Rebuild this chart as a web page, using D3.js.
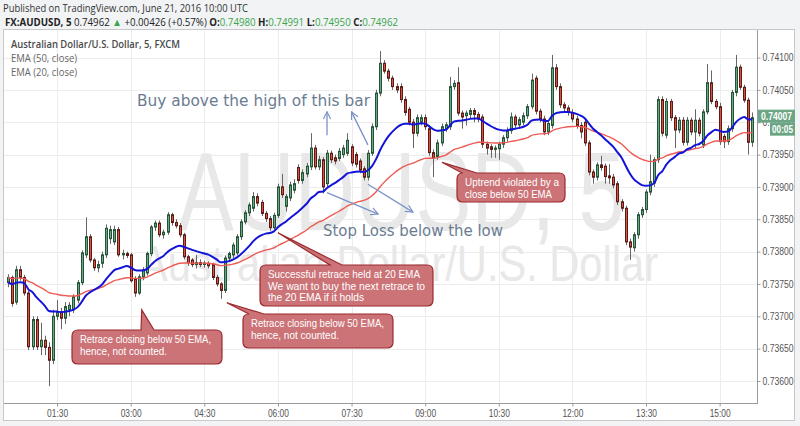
<!DOCTYPE html>
<html>
<head>
<meta charset="utf-8">
<script src="https://cdn.jsdelivr.net/npm/d3@7"></script>
<style>
    body { margin: 0; background: #f1f3f5; }
    svg { display: block; }
</style>
</head>
<body>
<svg id="chart" width="800" height="426"></svg>
<script>
// AUDUSD 5 min bars
const opens = [
    0.73752,0.73760,0.73722,0.73772,0.73760,0.73736,0.73653,0.73695,0.73653,0.73663,
    0.73652,0.73632,0.73700,0.73707,0.73697,0.73710,0.73710,0.73725,0.73752,0.73795,
    0.73823,0.73787,0.73775,0.73782,0.73795,0.73820,0.73815,0.73834,0.73795,0.73797,
    0.73795,0.73758,0.73736,0.73761,0.73767,0.73797,0.73838,0.73844,0.73826,0.73830,
    0.73857,0.73845,0.73840,0.73826,0.73792,0.73787,0.73780,0.73783,0.73780,0.73782,
    0.73780,0.73760,0.73750,0.73740,0.73790,0.73795,0.73798,0.73823,0.73846,0.73860,
    0.73867,0.73885,0.73876,0.73859,0.73851,0.73837,0.73856,0.73900,0.73870,0.73883,
    0.73895,0.73930,0.73910,0.73920,0.73931,0.73960,0.73931,0.73942,0.73905,0.73952,
    0.73945,0.73944,0.73950,0.73952,0.73962,0.73950,0.73940,0.73928,0.73915,0.73952,
    0.73993,0.74045,0.74091,0.74079,0.74068,0.74055,0.74055,0.74035,0.74020,0.74000,
    0.73983,0.74000,0.74007,0.73990,0.73953,0.73947,0.73968,0.73990,0.73993,0.74055,
    0.74061,0.74014,0.74010,0.74012,0.74018,0.74012,0.74008,0.73966,0.73962,0.73958,
    0.73959,0.73966,0.73976,0.73987,0.74008,0.73996,0.74000,0.74010,0.74024,0.74068,
    0.74017,0.74005,0.73985,0.73995,0.74084,0.74055,0.74027,0.74022,0.74015,0.74005,
    0.73995,0.74000,0.73968,0.73923,0.73915,0.73934,0.73932,0.73917,0.73915,0.73905,
    0.73877,0.73867,0.73815,0.73806,0.73826,0.73857,0.73865,0.73892,0.73906,0.73942,
    0.74035,0.73980,0.74032,0.74007,0.73988,0.74003,0.73969,0.74003,0.73985,0.74003,
    0.73965,0.74016,0.74061,0.74032,0.74024,0.73978,0.73970,0.73990,0.74046,0.74085,
    0.74054,0.74034,0.73969
];
const highs = [
    0.73765,0.73763,0.73778,0.73778,0.73764,0.73740,0.73700,0.73700,0.73690,0.73670,
    0.73660,0.73710,0.73725,0.73713,0.73722,0.73722,0.73734,0.73756,0.73802,0.73853,
    0.73827,0.73790,0.73786,0.73800,0.73842,0.73840,0.73840,0.73838,0.73803,0.73800,
    0.73798,0.73762,0.73765,0.73776,0.73800,0.73841,0.73848,0.73848,0.73834,0.73861,
    0.73860,0.73850,0.73844,0.73829,0.73795,0.73790,0.73795,0.73788,0.73786,0.73785,
    0.73783,0.73764,0.73753,0.73794,0.73800,0.73814,0.73827,0.73850,0.73864,0.73876,
    0.73892,0.73890,0.73880,0.73863,0.73855,0.73860,0.73905,0.73920,0.73889,0.73908,
    0.73912,0.73935,0.73927,0.73937,0.73983,0.73965,0.73948,0.73946,0.73957,0.73956,
    0.73950,0.73960,0.73965,0.73983,0.73966,0.73954,0.73944,0.73932,0.73957,0.73998,
    0.74050,0.74110,0.74096,0.74083,0.74072,0.74060,0.74060,0.74040,0.74024,0.74005,
    0.74012,0.74012,0.74012,0.73995,0.73958,0.73973,0.73998,0.74000,0.74070,0.74065,
    0.74085,0.74018,0.74018,0.74022,0.74022,0.74016,0.74012,0.73970,0.73966,0.73964,
    0.73970,0.73980,0.73992,0.74015,0.74012,0.74008,0.74015,0.74028,0.74075,0.74072,
    0.74021,0.74010,0.74003,0.74104,0.74090,0.74060,0.74031,0.74026,0.74020,0.74010,
    0.74000,0.74005,0.73972,0.73927,0.73938,0.73948,0.73936,0.73935,0.73920,0.73909,
    0.73881,0.73871,0.73820,0.73830,0.73861,0.73869,0.73896,0.73950,0.73946,0.74040,
    0.74040,0.74037,0.74036,0.74011,0.74008,0.74008,0.74008,0.74007,0.74020,0.74007,
    0.74020,0.74090,0.74080,0.74036,0.74030,0.73982,0.73995,0.74050,0.74104,0.74089,
    0.74058,0.74038,0.74015
];
const lows = [
    0.73745,0.73715,0.73718,0.73755,0.73732,0.73648,0.73648,0.73648,0.73640,0.73640,
    0.73592,0.73626,0.73694,0.73680,0.73688,0.73700,0.73705,0.73720,0.73748,0.73790,
    0.73783,0.73770,0.73768,0.73775,0.73790,0.73812,0.73810,0.73792,0.73788,0.73790,
    0.73752,0.73730,0.73733,0.73756,0.73763,0.73793,0.73832,0.73822,0.73820,0.73826,
    0.73840,0.73836,0.73822,0.73788,0.73778,0.73776,0.73774,0.73776,0.73775,0.73774,
    0.73756,0.73746,0.73727,0.73736,0.73785,0.73790,0.73794,0.73818,0.73842,0.73855,
    0.73862,0.73870,0.73855,0.73846,0.73832,0.73833,0.73852,0.73883,0.73862,0.73878,
    0.73890,0.73905,0.73905,0.73915,0.73926,0.73927,0.73926,0.73890,0.73900,0.73937,
    0.73935,0.73940,0.73945,0.73948,0.73932,0.73930,0.73921,0.73910,0.73910,0.73948,
    0.73988,0.74040,0.74075,0.74063,0.74050,0.74045,0.74030,0.74010,0.73995,0.73960,
    0.73978,0.73995,0.73988,0.73948,0.73915,0.73942,0.73963,0.73985,0.73988,0.74050,
    0.74010,0.73990,0.73995,0.74005,0.74000,0.74000,0.73960,0.73950,0.73945,0.73945,
    0.73942,0.73960,0.73970,0.73982,0.73990,0.73990,0.73995,0.74005,0.74020,0.74012,
    0.74000,0.73980,0.73980,0.73990,0.74050,0.74022,0.74017,0.74010,0.74000,0.73990,
    0.73975,0.73963,0.73918,0.73905,0.73910,0.73925,0.73905,0.73905,0.73898,0.73872,
    0.73862,0.73810,0.73787,0.73800,0.73820,0.73852,0.73860,0.73887,0.73900,0.73937,
    0.73978,0.73975,0.74002,0.73960,0.73983,0.73964,0.73964,0.73980,0.73960,0.73978,
    0.73960,0.74012,0.74028,0.74020,0.73965,0.73960,0.73965,0.73985,0.74040,0.74050,
    0.74030,0.73950,0.73962
];
const closes = [
    0.73760,0.73720,0.73772,0.73760,0.73736,0.73653,0.73695,0.73653,0.73663,0.73652,
    0.73632,0.73700,0.73707,0.73697,0.73715,0.73717,0.73730,0.73752,0.73798,0.73823,
    0.73787,0.73775,0.73780,0.73795,0.73836,0.73834,0.73834,0.73795,0.73797,0.73794,
    0.73755,0.73736,0.73761,0.73772,0.73797,0.73838,0.73844,0.73826,0.73830,0.73857,
    0.73845,0.73840,0.73826,0.73792,0.73783,0.73780,0.73783,0.73780,0.73782,0.73778,
    0.73760,0.73750,0.73740,0.73790,0.73797,0.73810,0.73823,0.73846,0.73860,0.73872,
    0.73885,0.73875,0.73859,0.73851,0.73837,0.73856,0.73900,0.73888,0.73885,0.73903,
    0.73905,0.73910,0.73922,0.73932,0.73960,0.73931,0.73942,0.73900,0.73952,0.73942,
    0.73940,0.73955,0.73960,0.73972,0.73937,0.73935,0.73926,0.73915,0.73952,0.73993,
    0.74045,0.74091,0.74079,0.74068,0.74055,0.74050,0.74035,0.74015,0.74000,0.73983,
    0.74007,0.74007,0.73993,0.73953,0.73945,0.73968,0.73993,0.73996,0.74055,0.74060,
    0.74014,0.74008,0.74014,0.74018,0.74012,0.74005,0.73966,0.73960,0.73958,0.73960,
    0.73966,0.73976,0.73987,0.74008,0.73996,0.74004,0.74010,0.74024,0.74065,0.74017,
    0.74005,0.73985,0.73998,0.74084,0.74055,0.74027,0.74022,0.74015,0.74005,0.73995,
    0.73985,0.73968,0.73923,0.73915,0.73934,0.73930,0.73916,0.73914,0.73903,0.73877,
    0.73867,0.73815,0.73807,0.73826,0.73857,0.73865,0.73892,0.73908,0.73942,0.74035,
    0.73983,0.74032,0.74007,0.73988,0.74003,0.73969,0.74003,0.73985,0.74003,0.73983,
    0.74016,0.74061,0.74032,0.74024,0.73970,0.73970,0.73990,0.74046,0.74085,0.74054,
    0.74034,0.73969,0.74007
];

const firstBar = "2016-06-21T00:30:00Z";
// EMA values just before the first visible bar (at the left edge)
const ema20Start = 0.73752;
const ema50Start = 0.73760;

const priceTicks = [0.7360, 0.73650, 0.7370, 0.73750, 0.7380, 0.73850, 0.7390, 0.73950, 0.7400, 0.74050, 0.7410];
const timeTicks = ["01:30", "03:00", "04:30", "06:00", "07:30", "09:00", "10:30", "12:00", "13:30", "15:00"];

const lastPrice = "0.74007";
const countdown = "00:05";

const [svgW, svgH] = [800, 426];
const PANE = {left: 4, top: 30, right: 757, bottom: 403};
const BAR_STEP = 4.09;
const FIRST_X = 8;
const BAR_MS = 5 * 60 * 1000;

const UP = {fill: '#6ba583', line: '#225437'};
const DOWN = {fill: '#d75442', line: '#5b1a13'};
const NOTE_FONT = '"Liberation Sans", Arial, sans-serif';
const TEXT_FONT = '"DejaVu Sans", Verdana, sans-serif';
const UI_FONT = '"Open Sans", "Noto Sans", sans-serif';
const AXIS_FONT = '"Liberation Sans", Arial, sans-serif';

const svg = d3.select('#chart');

const t0 = new Date(firstBar);
const times = d3.utcMinute.every(5).range(t0, d3.utcMinute.offset(t0, 5 * closes.length));
const bars = times.map(function (t, i) {
    return {t: t, o: opens[i], h: highs[i], l: lows[i], c: closes[i]};
});

const x = d3.scaleUtc()
    .domain([times[0], times[times.length - 1]])
    .range([FIRST_X, FIRST_X + BAR_STEP * (times.length - 1)]);
const y = d3.scaleLinear().domain([0.736, 0.741]).range([381, 57.5]);

const fmtHM = d3.utcFormat('%H:%M');
const tickTimes = times.filter(function (t) {
    return timeTicks.indexOf(fmtHM(t)) >= 0;
});

function ema(values, n, start) {
    const k = 2 / (n + 1);
    let e = start;
    return values.map(function (v) {
        e = e + k * (v - e);
        return e;
    });
}

// position at (fractional) bar index i and price p
function pt(i, p) {
    return [x(new Date(+t0 + i * BAR_MS)), y(p)];
}

function fit(sel, width) {
    sel.attr('textLength', width).attr('lengthAdjust', 'spacingAndGlyphs');
    return sel;
}

function renderFrame() {
    svg.append('rect').attr('x', 0).attr('y', 0).attr('width', svgW).attr('height', svgH).attr('fill', '#f1f3f5');
    svg.append('rect').attr('x', 3.5).attr('y', 29.5).attr('width', 791).attr('height', 391)
        .attr('fill', '#fff').attr('stroke', '#c8c8c8');

    let header = svg.append('g').attr('font-family', UI_FONT);
    fit(header.append('text').attr('x', 3).attr('y', 12).attr('font-size', 11.3).attr('fill', '#333')
        .text('Published on TradingView.com, June 21, 2016 10:00 UTC'), 245);

    let line2 = fit(header.append('text').attr('x', 5).attr('y', 26).attr('font-size', 10.6).attr('fill', '#222'), 393);
    const parts = [
        ['FX:AUDUSD, 5 ', '#222', 'bold'], ['0.74962 ', '#222', 'normal'], ['\u25B2', '#3aa54a', 'normal'],
        [' +0.00426 (+0.57%) ', '#222', 'normal'],
        ['O:', '#222', 'bold'], ['0.74980 ', '#3aa54a', 'normal'],
        ['H:', '#222', 'bold'], ['0.74991 ', '#3aa54a', 'normal'],
        ['L:', '#222', 'bold'], ['0.74950 ', '#3aa54a', 'normal'],
        ['C:', '#222', 'bold'], ['0.74962', '#3aa54a', 'normal']
    ];
    line2.selectAll('tspan').data(parts).enter().append('tspan')
        .attr('fill', function (d) { return d[1]; })
        .attr('font-weight', function (d) { return d[2]; })
        .text(function (d) { return d[0]; });
}

function renderGrid() {
    let g = svg.append('g').attr('stroke', '#ececec').attr('stroke-width', 1);
    g.selectAll('line.h').data(priceTicks).enter().append('line').attr('class', 'h')
        .attr('x1', PANE.left).attr('x2', PANE.right)
        .attr('y1', function (d) { return Math.round(y(d)) + 0.5; })
        .attr('y2', function (d) { return Math.round(y(d)) + 0.5; });
    g.selectAll('line.v').data(tickTimes).enter().append('line').attr('class', 'v')
        .attr('y1', PANE.top).attr('y2', PANE.bottom)
        .attr('x1', function (d) { return Math.round(x(d)) + 0.5; })
        .attr('x2', function (d) { return Math.round(x(d)) + 0.5; });
}

function renderWatermark() {
    let g = svg.append('g').attr('fill', '#e8e8e8').attr('font-family', '"Liberation Sans", Arial, sans-serif');
    fit(g.append('text').attr('x', 178).attr('y', 230).attr('font-size', 112).text('AUDUSD, 5'), 447);
    fit(g.append('text').attr('x', 140).attr('y', 281).attr('font-size', 50).text('Australian Dollar/U.S. Dollar'), 518);
}

function renderLegend() {
    let g = svg.append('g').attr('font-family', UI_FONT);
    fit(g.append('text').attr('x', 11).attr('y', 48).attr('font-size', 11).attr('font-weight', 600)
        .attr('fill', '#4a4a4a').text('Australian Dollar/U.S. Dollar, 5, FXCM'), 169);
    fit(g.append('text').attr('x', 11).attr('y', 62).attr('font-size', 10.6).attr('fill', '#666').text('EMA (50, close)'), 66);
    fit(g.append('text').attr('x', 11).attr('y', 76).attr('font-size', 10.6).attr('fill', '#666').text('EMA (20, close)'), 66);
}

function renderCandles(g) {
    g.selectAll('line.wick').data(bars).enter().append('line').attr('class', 'wick')
        .attr('stroke', '#666').attr('stroke-width', 1)
        .attr('x1', function (d) { return Math.round(x(d.t)) + 0.5; })
        .attr('x2', function (d) { return Math.round(x(d.t)) + 0.5; })
        .attr('y1', function (d) { return y(d.h); })
        .attr('y2', function (d) { return y(d.l); });

    g.selectAll('rect.body').data(bars).enter().append('rect').attr('class', 'body')
        .attr('x', function (d) { return Math.round(x(d.t)) - 0.5; })
        .attr('width', 2)
        .attr('y', function (d) { return y(Math.max(d.o, d.c)); })
        .attr('height', function (d) { return Math.max(1, Math.abs(y(d.o) - y(d.c))); })
        .attr('fill', function (d) { return d.c >= d.o ? UP.fill : DOWN.fill; })
        .attr('stroke', function (d) { return d.c >= d.o ? UP.line : DOWN.line; })
        .attr('stroke-width', 1);
}

function renderEmas(g) {
    let line = d3.line()
        .x(function (d, i) { return x(times[i]); })
        .y(function (d) { return y(d); })
        .curve(d3.curveMonotoneX);
    g.append('path').attr('d', line(ema(closes, 50, ema50Start)))
        .attr('fill', 'none').attr('stroke', '#ee5b55').attr('stroke-width', 1.4);
    g.append('path').attr('d', line(ema(closes, 20, ema20Start)))
        .attr('fill', 'none').attr('stroke', '#1414d8').attr('stroke-width', 2);
}

function renderAxes() {
    let yAxis = d3.axisRight(y).tickValues(priceTicks).tickFormat(d3.format('.5f')).tickSize(3).tickPadding(2);
    let ga = svg.append('g').attr('transform', 'translate(' + (PANE.right + 0.5) + ',0)').call(yAxis);
    ga.select('.domain').attr('d', 'M0,' + PANE.top + 'V' + PANE.bottom).attr('stroke', '#9a9a9a');
    ga.selectAll('.tick line').attr('stroke', '#9a9a9a');
    fit(ga.selectAll('.tick text').attr('font-family', AXIS_FONT).attr('font-size', 10).attr('fill', '#555'), 31);

    let xAxis = d3.axisBottom(x).tickValues(tickTimes).tickFormat(fmtHM).tickSize(3).tickPadding(3);
    let gx = svg.append('g').attr('transform', 'translate(0,' + (PANE.bottom + 0.5) + ')').call(xAxis);
    gx.select('.domain').attr('d', 'M' + PANE.left + ',0H' + (PANE.right + 1)).attr('stroke', '#9a9a9a');
    gx.selectAll('.tick line').attr('stroke', '#9a9a9a');
    fit(gx.selectAll('.tick text').attr('font-family', AXIS_FONT).attr('font-size', 10).attr('fill', '#555'), 21);

    // last price tag
    let tag = svg.append('g').attr('font-family', AXIS_FONT).attr('font-weight', 'bold').attr('font-size', 10);
    let ly = y(+lastPrice);
    tag.append('rect').attr('x', PANE.right + 1).attr('y', ly - 8).attr('width', 37).attr('height', 13).attr('fill', UP.fill);
    fit(tag.append('text').attr('x', PANE.right + 4).attr('y', ly + 2).attr('fill', '#fff').text(lastPrice), 31);
    tag.append('rect').attr('x', PANE.right + 13).attr('y', ly + 5).attr('width', 25).attr('height', 13).attr('fill', UP.fill);
    fit(tag.append('text').attr('x', PANE.right + 15).attr('y', ly + 15).attr('fill', '#fff').text(countdown), 21);
}

function calloutPath(b) {
    const r = 6, x0 = b.x, y0 = b.y, x1 = b.x + b.w, y1 = b.y + b.h;
    return 'M' + (x0 + r) + ',' + y0 +
        'L' + b.base[0] + ',' + y0 + 'L' + b.tip[0] + ',' + b.tip[1] + 'L' + b.base[1] + ',' + y0 +
        'L' + (x1 - r) + ',' + y0 + 'Q' + x1 + ',' + y0 + ' ' + x1 + ',' + (y0 + r) +
        'L' + x1 + ',' + (y1 - r) + 'Q' + x1 + ',' + y1 + ' ' + (x1 - r) + ',' + y1 +
        'L' + (x0 + r) + ',' + y1 + 'Q' + x0 + ',' + y1 + ' ' + x0 + ',' + (y1 - r) +
        'L' + x0 + ',' + (y0 + r) + 'Q' + x0 + ',' + y0 + ' ' + (x0 + r) + ',' + y0 + 'Z';
}

function renderNotes() {
    let g = svg.append('g').attr('font-family', TEXT_FONT);

    // arrows
    svg.append('defs').append('marker').attr('id', 'head').attr('viewBox', '0 0 10 10')
        .attr('refX', 9).attr('refY', 5).attr('markerWidth', 9).attr('markerHeight', 9)
        .attr('orient', 'auto').attr('markerUnits', 'userSpaceOnUse')
        .append('path').attr('d', 'M1,1L9,5L1,9').attr('fill', 'none').attr('stroke', '#7b93c6').attr('stroke-width', 1.3);
    const arrows = [
        [pt(78, 0.73980), pt(78, 0.74016)],
        [pt(88, 0.73965), pt(84, 0.74016)],
        [pt(78, 0.73891), pt(90.5, 0.73858)],
        [pt(88, 0.73904), pt(99, 0.73861)]
    ];
    g.selectAll('line.arrow').data(arrows).enter().append('line').attr('class', 'arrow')
        .attr('x1', function (d) { return d[0][0]; }).attr('y1', function (d) { return d[0][1]; })
        .attr('x2', function (d) { return d[1][0]; }).attr('y2', function (d) { return d[1][1]; })
        .attr('stroke', '#7b93c6').attr('stroke-width', 1.3).attr('marker-end', 'url(#head)');

    fit(g.append('text').attr('x', 137).attr('y', 106).attr('font-size', 15.5).attr('fill', '#6b7c92')
        .text('Buy above the high of this bar'), 233);
    fit(g.append('text').attr('x', 323).attr('y', 236).attr('font-size', 15.5).attr('fill', '#6b7c92')
        .text('Stop Loss below the low'), 180);

    const boxes = [
        {x: 72, y: 330, w: 150, h: 34, tipAt: [32.7, 0.73710], base: [141, 154],
            lines: ['Retrace closing below 50 EMA,', 'hence, not counted.'], widths: [131, 87]},
        {x: 243, y: 314, w: 150, h: 34, tipAt: [53.5, 0.73721], base: [249, 264],
            lines: ['Retrace closing below 50 EMA,', 'hence, not counted.'], widths: [133, 88]},
        {x: 260, y: 265, w: 173, h: 41, tipAt: [66, 0.73829], base: [330, 342],
            lines: ['Successful retrace held at 20 EMA', 'We want to buy the next retrace to', 'the 20 EMA if it holds'],
            widths: [152, 157, 96]},
        {x: 457, y: 173, w: 108, h: 29, tipAt: [106.1, 0.73938], base: [462, 477],
            lines: ['Uptrend violated by a', 'close below 50 EMA'], widths: [94, 87]}
    ];
    boxes.forEach(function (b) {
        b.tip = pt(b.tipAt[0], b.tipAt[1]);
        g.append('path').attr('d', calloutPath(b))
            .attr('fill', '#c7676b').attr('fill-opacity', 0.92)
            .attr('stroke', '#9b2b2f').attr('stroke-width', 1.2);
        let t = g.append('text').attr('font-family', NOTE_FONT).attr('font-size', 10.5).attr('fill', '#fff');
        t.selectAll('tspan').data(b.lines).enter().append('tspan')
            .attr('x', b.x + 8)
            .attr('y', function (d, i) { return b.y + 13 + i * 11.5; })
            .attr('textLength', function (d, i) { return b.widths[i]; })
            .attr('lengthAdjust', 'spacingAndGlyphs')
            .text(function (d) { return d; });
    });
}

function main() {
    renderFrame();
    renderGrid();
    renderWatermark();
    renderLegend();

    svg.append('defs').append('clipPath').attr('id', 'pane')
        .append('rect').attr('x', PANE.left).attr('y', PANE.top)
        .attr('width', PANE.right - PANE.left).attr('height', PANE.bottom - PANE.top);
    let plot = svg.append('g').attr('clip-path', 'url(#pane)');
    renderCandles(plot);
    renderEmas(plot);

    renderAxes();
    renderNotes();
}

main();
</script>
</body>
</html>
